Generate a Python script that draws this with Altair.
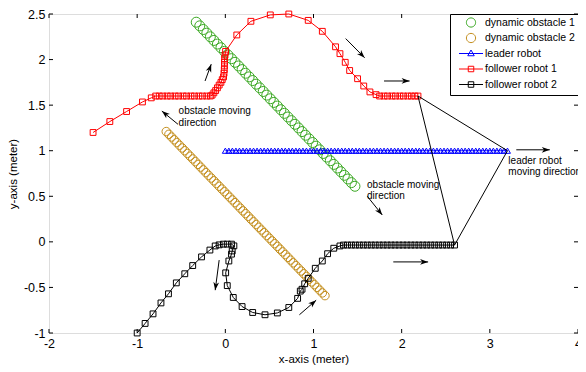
import math
import altair as alt
import pandas as pd

# ---------------- data ----------------
obs1_x = [-0.33, -0.29, -0.25, -0.21, -0.17, -0.13, -0.09, -0.05, -0.01, 0.03, 0.07, 0.11, 0.15, 0.19,
          0.23, 0.27, 0.31, 0.35, 0.39, 0.43, 0.47, 0.51, 0.55, 0.59, 0.63, 0.67, 0.71, 0.75, 0.79, 0.83,
          0.87, 0.91, 0.95, 0.99, 1.03, 1.07, 1.11, 1.15, 1.19, 1.23, 1.27, 1.31, 1.35, 1.39, 1.43, 1.47]
obs1_y = [2.41, 2.37, 2.33, 2.29, 2.25, 2.21, 2.17, 2.13, 2.09, 2.05, 2.01, 1.97, 1.93, 1.89,
          1.85, 1.81, 1.77, 1.73, 1.69, 1.65, 1.61, 1.57, 1.53, 1.49, 1.45, 1.41, 1.37, 1.33, 1.29, 1.25,
          1.21, 1.17, 1.13, 1.09, 1.05, 1.01, 0.97, 0.93, 0.89, 0.85, 0.81, 0.77, 0.73, 0.69, 0.65, 0.61]

obs2_x = [-0.67, -0.64, -0.61, -0.58, -0.55, -0.52, -0.49, -0.46, -0.43, -0.40, -0.37, -0.34, -0.31,
          -0.28, -0.25, -0.22, -0.19, -0.16, -0.13, -0.10, -0.07, -0.04, -0.01, 0.02, 0.05, 0.08, 0.11,
          0.14, 0.17, 0.20, 0.23, 0.26, 0.29, 0.32, 0.35, 0.38, 0.41, 0.44, 0.47, 0.50, 0.53, 0.56, 0.59,
          0.62, 0.65, 0.68, 0.71, 0.74, 0.77, 0.80, 0.83, 0.86, 0.89, 0.92, 0.95, 0.98, 1.01, 1.04, 1.07,
          1.10, 1.13]
obs2_y = [1.21, 1.18, 1.15, 1.12, 1.09, 1.06, 1.03, 1.00, 0.97, 0.94, 0.91, 0.88, 0.85,
          0.82, 0.79, 0.76, 0.73, 0.70, 0.67, 0.64, 0.61, 0.58, 0.55, 0.52, 0.49, 0.46, 0.43,
          0.40, 0.37, 0.34, 0.31, 0.28, 0.25, 0.22, 0.19, 0.16, 0.13, 0.10, 0.07, 0.04, 0.01, -0.02, -0.05,
          -0.08, -0.11, -0.14, -0.17, -0.20, -0.23, -0.26, -0.29, -0.32, -0.35, -0.38, -0.41, -0.44, -0.47,
          -0.50, -0.53, -0.56, -0.59]

leader_x = [0.00, 0.04, 0.08, 0.12, 0.16, 0.20, 0.24, 0.28, 0.32, 0.36, 0.40, 0.44, 0.48, 0.52, 0.56,
            0.60, 0.64, 0.68, 0.72, 0.76, 0.80, 0.84, 0.88, 0.92, 0.96, 1.00, 1.04, 1.08, 1.12, 1.16,
            1.20, 1.24, 1.28, 1.32, 1.36, 1.40, 1.44, 1.48, 1.52, 1.56, 1.60, 1.64, 1.68, 1.72, 1.76,
            1.80, 1.84, 1.88, 1.92, 1.96, 2.00, 2.04, 2.08, 2.12, 2.16, 2.20, 2.24, 2.28, 2.32, 2.36,
            2.40, 2.44, 2.48, 2.52, 2.56, 2.60, 2.64, 2.68, 2.72, 2.76, 2.80, 2.84, 2.88, 2.92, 2.96,
            3.00, 3.04, 3.08, 3.12, 3.16, 3.20]
leader_y = [1.0] * len(leader_x)

f1_x = [-1.50, -1.31, -1.12, -0.94, -0.84, -0.79,
        -0.75, -0.71, -0.66, -0.62, -0.57, -0.53, -0.48, -0.44, -0.39, -0.35, -0.30, -0.26, -0.21, -0.17,
        -0.15, -0.13, -0.11, -0.09, -0.07, -0.05, -0.035, -0.02, -0.015, -0.012, -0.01, -0.01, -0.008, -0.004, 0.003,
        0.13, 0.29, 0.51, 0.72, 0.94, 1.10, 1.25, 1.30, 1.36, 1.41, 1.50, 1.57, 1.64, 1.71,
        1.75, 1.80, 1.84, 1.89, 1.93, 1.98, 2.02, 2.07, 2.11, 2.15, 2.185]
f1_y = [1.20, 1.32, 1.43, 1.535, 1.58, 1.60,
        1.60, 1.60, 1.60, 1.60, 1.60, 1.60, 1.60, 1.60, 1.60, 1.60, 1.60, 1.60, 1.60, 1.60,
        1.61, 1.635, 1.66, 1.69, 1.72, 1.75, 1.78, 1.81, 1.85, 1.89, 1.93, 1.97, 2.01, 2.05, 2.09,
        2.27, 2.42, 2.49, 2.50, 2.43, 2.31, 2.14, 2.065, 1.97, 1.88, 1.79, 1.71, 1.645, 1.615,
        1.60, 1.60, 1.60, 1.60, 1.60, 1.60, 1.60, 1.60, 1.60, 1.60, 1.60]

f2_x = [-1.00, -0.91, -0.82, -0.73, -0.645, -0.556, -0.46, -0.37, -0.27, -0.175, -0.115, -0.07, -0.022,
        0.022, 0.07, 0.097, 0.078, 0.07, 0.04, 0.004, 0.022, 0.09, 0.19, 0.31, 0.45, 0.59, 0.72, 0.82,
        0.85, 0.87, 0.90, 0.94, 1.02, 1.10, 1.16, 1.23, 1.30,
        1.34, 1.385, 1.43, 1.475, 1.52, 1.565, 1.61, 1.655, 1.70, 1.745, 1.79, 1.835, 1.88, 1.925, 1.97,
        2.015, 2.06, 2.105, 2.15, 2.195, 2.24, 2.285, 2.33, 2.375, 2.42, 2.465, 2.51, 2.555, 2.60]
f2_y = [-1.00, -0.895, -0.79, -0.67, -0.57, -0.45, -0.35, -0.26, -0.165, -0.09, -0.045, -0.033, -0.025,
        -0.025, -0.025, -0.044, -0.10, -0.135, -0.21, -0.34, -0.48, -0.61, -0.71, -0.775, -0.80, -0.78, -0.72, -0.62,
        -0.54, -0.52, -0.46, -0.40, -0.29, -0.21, -0.13, -0.07, -0.045,
        -0.035, -0.035, -0.035, -0.035, -0.035, -0.035, -0.035, -0.035, -0.035, -0.035, -0.035, -0.035, -0.035,
        -0.035, -0.035, -0.035, -0.035, -0.035, -0.035, -0.035, -0.035, -0.035, -0.035, -0.035, -0.035,
        -0.035, -0.035, -0.035, -0.035]

series_names = ["dynamic obstacle 1", "dynamic obstacle 2", "leader robot",
                "follower robot 1", "follower robot 2"]
series_colors = ["#3aa822", "#c48f1e", "#0000ff", "#ff0000", "#000000"]

x_ticks = [-2, -1, 0, 1, 2, 3, 4]
y_ticks = [-1, -0.5, 0, 0.5, 1, 1.5, 2, 2.5]

arrow_x1 = [-0.23, -0.537, 1.365, 1.80, 3.30, 1.61, 1.905, 0.84, -0.07]
arrow_y1 = [1.765, 1.29, 2.23, 1.765, 1.01, 0.50, -0.22, -0.80, -0.20]
arrow_x2 = [-0.16, -0.72, 1.58, 2.09, 3.68, 1.78, 2.30, 1.03, -0.115]
arrow_y2 = [1.95, 1.435, 2.02, 1.765, 1.01, 0.295, -0.22, -0.64, -0.53]

ann_text = ["obstacle moving", "direction", "obstacle moving", "direction",
            "leader robot", "moving direction"]
ann_x = [-0.53, -0.53, 1.607, 1.607, 3.21, 3.21]
ann_y = [1.435, 1.30, 0.625, 0.505, 0.888, 0.771]

# ---------------- layout ----------------
W, H = 529, 319
FONT = "Liberation Sans"
xs = alt.Scale(domain=[-2, 4], nice=False, zero=False)
ys = alt.Scale(domain=[-1, 2.5], nice=False, zero=False)

axis_common = dict(ticks=False, tickSize=0, grid=False, domain=False, labelPadding=4,
                   labelFont=FONT, titleFont=FONT, labelFontSize=12.5, titleFontSize=11.5,
                   titleFontWeight="normal", labelColor="black", titleColor="black",
                   labelFlush=False, labelOverlap=False, labelExpr="'' + datum.value")
xaxis = alt.Axis(values=x_ticks, title="x-axis (meter)", titlePadding=4, **axis_common)
yaxis = alt.Axis(values=y_ticks, title="y-axis (meter)", titlePadding=5, **axis_common)


def X(f="x"):
    return alt.X(f"{f}:Q", scale=xs, axis=xaxis)


def Y(f="y"):
    return alt.Y(f"{f}:Q", scale=ys, axis=yaxis)


def frame(xv, yv):
    return pd.DataFrame({"x": xv, "y": yv, "i": list(range(len(xv)))})


d_obs1 = frame(obs1_x, obs1_y)
d_obs2 = frame(obs2_x, obs2_y)
d_lead = frame(leader_x, leader_y)
d_f1 = frame(f1_x, f1_y)
d_f2 = frame(f2_x, f2_y)

layers = []

# obstacles
layers.append(alt.Chart(d_obs1).mark_point(shape="circle", filled=False, size=100, opacity=1,
                                           strokeWidth=1, color=series_colors[0]).encode(x=X(), y=Y()))
layers.append(alt.Chart(d_obs2).mark_point(shape="circle", filled=False, size=72, opacity=1,
                                           strokeWidth=1, color=series_colors[1]).encode(x=X(), y=Y()))
# leader
layers.append(alt.Chart(d_lead).mark_line(color=series_colors[2], strokeWidth=1).encode(
    x=X(), y=Y(), order="i:Q"))
layers.append(alt.Chart(d_lead).mark_point(shape="triangle-up", filled=False, size=36, opacity=1,
                                           strokeWidth=1, color=series_colors[2]).encode(x=X(), y=Y()))
# followers
for d, c in ((d_f1, series_colors[3]), (d_f2, series_colors[4])):
    layers.append(alt.Chart(d).mark_line(color=c, strokeWidth=1).encode(x=X(), y=Y(), order="i:Q"))
    layers.append(alt.Chart(d).mark_point(shape="square", filled=False, size=34, opacity=1,
                                          strokeWidth=1, color=c).encode(x=X(), y=Y()))

# formation triangle (ends of the robot paths)
form = frame([f1_x[-1], leader_x[-1], f2_x[-1], f1_x[-1]],
             [f1_y[-1], leader_y[-1], f2_y[-1], f1_y[-1]])
layers.append(alt.Chart(form).mark_line(color="black", strokeWidth=1).encode(x=X(), y=Y(), order="i:Q"))

# arrows
kx, ky = W / 6.0, H / 3.5
angles = [(math.degrees(math.atan2((x2 - x1) * kx, (y2 - y1) * ky)) + 360) % 360
          for x1, y1, x2, y2 in zip(arrow_x1, arrow_y1, arrow_x2, arrow_y2)]
arr = pd.DataFrame({"x": arrow_x1, "y": arrow_y1, "x2": arrow_x2, "y2": arrow_y2, "ang": angles})
layers.append(alt.Chart(arr).mark_rule(color="black", strokeWidth=1).encode(
    x=X(), y=Y(), x2="x2:Q", y2="y2:Q"))
layers.append(alt.Chart(arr).mark_point(shape="M0,0L0.36,1L0,0.72L-0.36,1Z", filled=True, size=256,
                                        opacity=1, color="black", strokeWidth=0).encode(
    x=X("x2"), y=Y("y2"), angle=alt.Angle("ang:Q", scale=None)))

# annotation text
ann = pd.DataFrame({"x": ann_x, "y": ann_y, "t": ann_text})
layers.append(alt.Chart(ann).mark_text(align="left", baseline="middle", font=FONT, fontSize=10,
                                       color="black").encode(x=X(), y=Y(), text="t:N"))

# inward ticks
xt = pd.DataFrame({"x": x_ticks})
yt = pd.DataFrame({"y": y_ticks})
layers.append(alt.Chart(xt).mark_rule(color="black").encode(x=X(), y=alt.value(H), y2=alt.value(H - 4)))
layers.append(alt.Chart(xt).mark_rule(color="black").encode(x=X(), y=alt.value(0), y2=alt.value(4)))
layers.append(alt.Chart(yt).mark_rule(color="black").encode(y=Y(), x=alt.value(0), x2=alt.value(4)))
layers.append(alt.Chart(yt).mark_rule(color="black").encode(y=Y(), x=alt.value(W), x2=alt.value(W - 4)))

# legend (symbols drawn by the legend only); polygon circle keeps symbol bounds exact
R = 0.92
circ = "M" + "L".join(f"{R * math.cos(2 * math.pi * k / 24):.3f},{R * math.sin(2 * math.pi * k / 24):.3f}"
                      for k in range(24)) + "Z"
ext = f"M0,-{R}M0,{R}"
leg_paths = [
    circ + ext,
    circ + ext,
    "M-2.4,0L2.4,0M0,-0.7L0.65,0.45L-0.65,0.45Z" + ext,
    "M-2.4,0L2.4,0M-0.55,-0.55L0.55,-0.55L0.55,0.55L-0.55,0.55Z" + ext,
    "M-2.4,0L2.4,0M-0.55,-0.55L0.55,-0.55L0.55,0.55L-0.55,0.55Z" + ext,
]
leg = alt.Legend(title=None, orient="top-right", offset=0, padding=3, strokeColor="black",
                 fillColor="white", symbolSize=100, symbolStrokeWidth=1, symbolOffset=12.5,
                 labelOffset=8.5, labelFont=FONT, labelFontSize=10.5, labelColor="black",
                 rowPadding=0.5)
leg_df = pd.DataFrame({"name": series_names})
layers.append(alt.Chart(leg_df).mark_point(filled=False, opacity=1, strokeWidth=1).encode(
    x=alt.value(-500), y=alt.value(-500),
    color=alt.Color("name:N", scale=alt.Scale(domain=series_names, range=series_colors), legend=leg),
    shape=alt.Shape("name:N", scale=alt.Scale(domain=series_names, range=leg_paths), legend=leg)))

chart = alt.layer(*layers).properties(
    width=W, height=H,
    autosize=alt.AutoSizeParams(type="none"),
    padding={"left": 41, "top": 6, "right": 0, "bottom": 39},
).configure_view(stroke="black", strokeWidth=1).configure(background="white")

chart.save("out.html", embed_options={"renderer": "svg", "actions": False})
